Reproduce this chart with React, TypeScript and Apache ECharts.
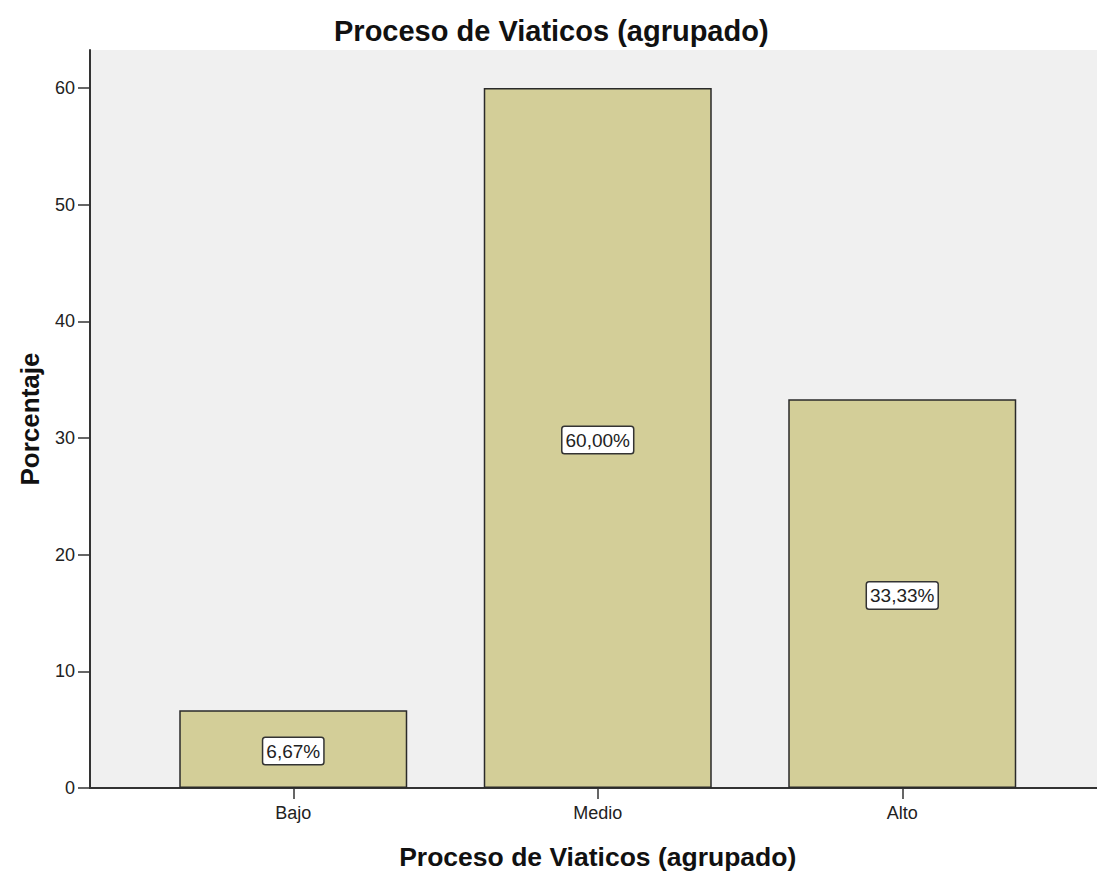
import React, { useEffect, useRef } from "react";
import * as echarts from "echarts";

const categories = ["Bajo", "Medio", "Alto"];
const percentages = [6.67, 60.0, 33.33];
const yTicks = [0, 10, 20, 30, 40, 50, 60];
const chartTitle = "Proceso de Viaticos (agrupado)";
const xTitle = "Proceso de Viaticos (agrupado)";
const yTitle = "Porcentaje";

const FONT = 'Arial, "Liberation Sans", sans-serif';
const Y_MAX = 63.26;

export default function App() {
  const ref = useRef<HTMLDivElement>(null);
  useEffect(() => {
    if (!ref.current) return;
    const chart = echarts.init(ref.current, null, { renderer: "svg" });
    const labelText = percentages.map((v) => v.toFixed(2).replace(".", ",") + "%");
    const frameLine = { show: true, lineStyle: { color: "#333", width: 2 } };
    chart.setOption({
      animation: false,
      backgroundColor: "#ffffff",
      title: {
        text: chartTitle,
        left: 329,
        top: 11,
        textStyle: { fontFamily: FONT, fontSize: 29, fontWeight: "bold", color: "#111" },
      },
      grid: [
        {
          left: 90,
          right: 0,
          top: 50,
          bottom: 84,
          show: true,
          backgroundColor: "#f0f0f0",
          borderWidth: 0,
          outerBoundsMode: "none",
          containLabel: false,
        },
        {
          left: 141,
          width: 913.5,
          top: 50,
          bottom: 84,
          outerBoundsMode: "none",
          containLabel: false,
        },
      ],
      xAxis: [
        {
          gridIndex: 0, type: "value", min: 0, max: 1, position: "top",
          axisLine: frameLine, axisTick: { show: false }, axisLabel: { show: false }, splitLine: { show: false },
        },
        {
          gridIndex: 0, type: "value", min: 0, max: 1, position: "bottom",
          axisLine: frameLine, axisTick: { show: false }, axisLabel: { show: false }, splitLine: { show: false },
        },
        {
          gridIndex: 1,
          type: "category",
          data: categories,
          axisLine: { show: false },
          axisTick: { show: true, alignWithLabel: true, length: 11, lineStyle: { color: "#333", width: 1.5 } },
          axisLabel: { fontFamily: FONT, fontSize: 18, color: "#222", margin: 16 },
          name: xTitle,
          nameLocation: "middle",
          nameGap: 55,
          nameTextStyle: { fontFamily: FONT, fontSize: 26.5, fontWeight: "bold", color: "#111" },
        },
      ],
      yAxis: [
        {
          gridIndex: 0,
          type: "value",
          min: 0,
          max: Y_MAX,
          splitLine: { show: false },
          axisLine: frameLine,
          axisTick: { show: true, length: 12, customValues: yTicks, lineStyle: { color: "#333", width: 1.5 } },
          axisLabel: { fontFamily: FONT, fontSize: 18, color: "#222", margin: 15, customValues: yTicks },
          name: yTitle,
          nameLocation: "middle",
          nameGap: 47,
          nameRotate: 90,
          nameTextStyle: { fontFamily: FONT, fontSize: 26, fontWeight: "bold", color: "#111" },
        },
        { gridIndex: 1, type: "value", min: 0, max: Y_MAX, show: false },
      ],
      series: [
        {
          type: "bar",
          xAxisIndex: 2,
          yAxisIndex: 1,
          data: percentages,
          barWidth: 228,
          itemStyle: { color: "#d3ce98", borderColor: "#2a2a2a", borderWidth: 1.5 },
          label: {
            show: true,
            position: "inside",
            offset: [0, 2],
            formatter: (p: any) => labelText[p.dataIndex],
            fontFamily: FONT,
            fontSize: 19,
            color: "#222",
            backgroundColor: "#ffffff",
            borderColor: "#333",
            borderWidth: 1.5,
            borderRadius: 2,
            padding: [4, 3, 3, 3],
          },
        },
      ],
    });
    return () => chart.dispose();
  }, []);
  return (
    <div
      ref={ref}
      style={{ position: "absolute", left: 0, top: 0, width: 1097, height: 872 }}
    />
  );
}
